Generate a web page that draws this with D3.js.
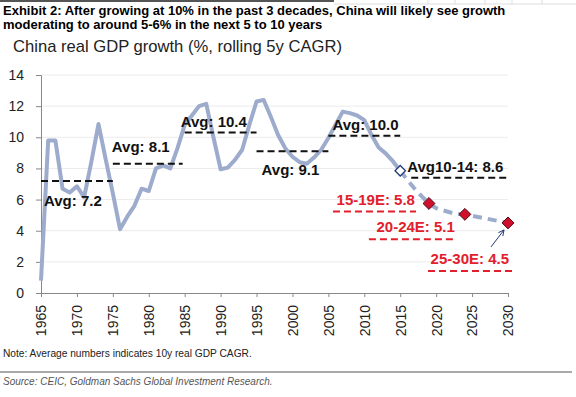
<!DOCTYPE html>
<html>
<head>
<meta charset="utf-8">
<script src="https://cdn.jsdelivr.net/npm/d3@7"></script>
<style>
  body { margin: 0; background: #fff; }
  svg { display: block; font-family: "Liberation Sans", Arial, sans-serif; }
</style>
</head>
<body>
<svg id="chart" width="576" height="397"></svg>
<script>
var yearsActual = [1965, 1966, 1967, 1968, 1969, 1970, 1971, 1972, 1973, 1974,
                   1975, 1976, 1977, 1978, 1979, 1980, 1981, 1982, 1983, 1984,
                   1985, 1986, 1987, 1988, 1989, 1990, 1991, 1992, 1993, 1994,
                   1995, 1996, 1997, 1998, 1999, 2000, 2001, 2002, 2003, 2004,
                   2005, 2006, 2007, 2008, 2009, 2010, 2011, 2012, 2013, 2014, 2015];
var gdpActual = [0.8, 9.8, 9.8, 6.7, 6.45, 6.85, 6.15, 8.4, 10.85, 8.6,
                 6.4, 4.1, 4.9, 5.6, 6.7, 6.55, 8.0, 8.2, 8.0, 9.3,
                 10.8, 11.4, 12.0, 12.15, 10.0, 7.95, 8.05, 8.55, 9.2, 10.8,
                 12.3, 12.4, 11.3, 10.15, 9.3, 8.75, 8.4, 8.3, 8.7, 9.2,
                 9.95, 10.8, 11.65, 11.55, 11.4, 11.1, 10.15, 9.35, 8.95, 8.45, 7.85];

// forecast path (dashed)
var yearsForecast = [2015, 2016, 2017, 2018, 2019, 2020, 2021, 2022, 2023, 2024, 2030];
var gdpForecast = [7.85, 7.25, 6.7, 6.2, 5.75, 5.45, 5.3, 5.17, 5.08, 5.05, 4.5];

// forecast markers
var markerYears = [2019, 2024, 2030];
var markerValues = [5.75, 5.05, 4.5];
var markerLabels = ["15-19E: 5.8", "20-24E: 5.1", "25-30E: 4.5"];

// 10y averages
var avgLabels = ["Avg: 7.2", "Avg: 8.1", "Avg: 10.4", "Avg: 9.1", "Avg: 10.0", "Avg10-14: 8.6"];
var avgFrom = [1965, 1975, 1985, 1995, 2005, 2015];
var avgTo = [1975, 1985, 1995, 2005, 2015, 2030];
var avgLevel = [7.2, 8.3, 10.3, 9.1, 10.1, 7.4];

var xTicks = [1965, 1970, 1975, 1980, 1985, 1990, 1995, 2000, 2005, 2010, 2015, 2020, 2025, 2030];
var yTicks = [0, 2, 4, 6, 8, 10, 12, 14];

var svg = d3.select('#chart');

var x = d3.scaleLinear().domain([1965, 2030]).range([41, 508]);
var y = d3.scaleLinear().domain([0, 14]).range([293, 75]);

var red = '#e2202c', lineColor = '#9dabcd';

// header (top rule + faint table cells on the right)
svg.append('line').attr('x1', 0).attr('x2', 334).attr('y1', 1).attr('y2', 1)
  .attr('stroke', '#555').attr('stroke-width', 2);
svg.append('line').attr('x1', 334).attr('x2', 576).attr('y1', 4).attr('y2', 4)
  .attr('stroke', '#ddd');
[428, 455, 485, 512, 542].forEach(function(cx){
  svg.append('line').attr('x1', cx).attr('x2', cx).attr('y1', 0).attr('y2', 4)
    .attr('stroke', '#ddd');
});
svg.append('text').attr('x', 3).attr('y', 15)
  .attr('font-size', 13).attr('font-weight', 'bold')
  .text('Exhibit 2: After growing at 10% in the past 3 decades, China will likely see growth');
svg.append('text').attr('x', 3).attr('y', 29)
  .attr('font-size', 13).attr('font-weight', 'bold')
  .text('moderating to around 5-6% in the next 5 to 10 years');
svg.append('text').attr('x', 13).attr('y', 52)
  .attr('font-size', 16.6).attr('fill', '#222')
  .text('China real GDP growth (%, rolling 5y CAGR)');

// gridlines
svg.append('g').selectAll('line')
  .data(yTicks.slice(1))
  .enter().append('line')
  .attr('x1', x(1965)).attr('x2', x(2030))
  .attr('y1', function(d){ return y(d); })
  .attr('y2', function(d){ return y(d); })
  .attr('stroke', '#ebebeb');

// axes
var yAxis = svg.append('g')
  .attr('transform', 'translate(' + x(1965) + ',0)')
  .call(d3.axisLeft(y).tickValues(yTicks).tickSize(5).tickPadding(12));
var xAxis = svg.append('g')
  .attr('transform', 'translate(0,' + y(0) + ')')
  .call(d3.axisBottom(x).tickValues(xTicks).tickFormat(d3.format('d')).tickSize(4));

[yAxis, xAxis].forEach(function(a){
  a.select('.domain').attr('stroke', '#888');
  a.selectAll('.tick line').attr('stroke', '#888');
  a.selectAll('text').attr('font-size', 14).attr('fill', '#222')
    .attr('font-family', '"Liberation Sans", Arial, sans-serif');
});
xAxis.selectAll('text')
  .attr('transform', 'rotate(-90)')
  .attr('text-anchor', 'end')
  .attr('x', -12).attr('y', 0).attr('dy', '0.35em');

// series
var line = d3.line()
  .x(function(d){ return x(d[0]); })
  .y(function(d){ return y(d[1]); });

svg.append('path')
  .datum(d3.zip(yearsActual, gdpActual))
  .attr('d', line)
  .attr('fill', 'none').attr('stroke', lineColor)
  .attr('stroke-width', 4).attr('stroke-linejoin', 'round');

svg.append('path')
  .datum(d3.zip(yearsForecast, gdpForecast))
  .attr('d', line)
  .attr('fill', 'none').attr('stroke', lineColor)
  .attr('stroke-width', 4).attr('stroke-dasharray', '9,6');

// average lines + labels
var avgLayout = [
  {dx: 3, dy: 25}, {dx: -1, dy: -12}, {dx: -4, dy: -6},
  {dx: 5, dy: 24}, {dx: 4, dy: -6}, {dx: 7, dy: -6}
];
var avg = svg.append('g');
avgLabels.forEach(function(lab, i){
  var x0 = x(avgFrom[i]) + (i === 5 ? 11 : 0);
  avg.append('line')
    .attr('x1', x0).attr('x2', x(avgTo[i]) - (i === 1 ? 2 : 0))
    .attr('y1', y(avgLevel[i])).attr('y2', y(avgLevel[i]))
    .attr('stroke', '#111').attr('stroke-width', 2).attr('stroke-dasharray', '7,4');
  avg.append('text')
    .attr('x', x(avgFrom[i]) + avgLayout[i].dx)
    .attr('y', y(avgLevel[i]) + avgLayout[i].dy)
    .attr('font-size', 15).attr('font-weight', 'bold').attr('fill', '#111')
    .text(lab);
});

// 2015 open diamond
var diamond = d3.symbol().type(d3.symbolDiamond2).size(70);
svg.append('path')
  .attr('d', diamond)
  .attr('transform', 'translate(' + x(2015) + ',' + y(gdpActual[gdpActual.length - 1]) + ')')
  .attr('fill', '#fff').attr('stroke', '#1f3a7a').attr('stroke-width', 1.3);

// forecast markers and red labels
var redLayout = [
  {tx: -14, ty: 2, ux0: -96, ux1: -13, uy: 8},
  {tx: -10, ty: 18, ux0: -96, ux1: -10, uy: 25},
  {tx: 1, ty: 41, ux0: -80, ux1: 6, uy: 48}
];
var fc = svg.append('g');
markerYears.forEach(function(yr, i){
  var mx = x(yr), my = y(markerValues[i]), L = redLayout[i];
  fc.append('text')
    .attr('x', mx + L.tx).attr('y', my + L.ty)
    .attr('text-anchor', 'end')
    .attr('font-size', 15).attr('font-weight', 'bold').attr('fill', red)
    .text(markerLabels[i]);
  fc.append('line')
    .attr('x1', mx + L.ux0).attr('x2', mx + L.ux1)
    .attr('y1', my + L.uy).attr('y2', my + L.uy)
    .attr('stroke', red).attr('stroke-width', 2).attr('stroke-dasharray', '7,4');
});
fc.selectAll('path.mk')
  .data(d3.zip(markerYears, markerValues))
  .enter().append('path')
  .attr('class', 'mk')
  .attr('d', d3.symbol().type(d3.symbolDiamond2).size(90))
  .attr('transform', function(d){ return 'translate(' + x(d[0]) + ',' + y(d[1]) + ')'; })
  .attr('fill', '#d0102a').attr('stroke', '#4a0a18').attr('stroke-width', 1);

// arrow to the 2030 point
svg.append('defs').append('marker')
  .attr('id', 'arr').attr('viewBox', '0 0 10 10').attr('refX', 9).attr('refY', 5)
  .attr('markerWidth', 7).attr('markerHeight', 7).attr('orient', 'auto')
  .append('path').attr('d', 'M1,1 L9,5 L1,9').attr('fill', 'none')
  .attr('stroke', '#1f3a7a').attr('stroke-width', 1.3);
var ax = x(2030), ay = y(markerValues[2]);
svg.append('line')
  .attr('x1', ax - 17).attr('y1', ay + 24)
  .attr('x2', ax - 4).attr('y2', ay + 7)
  .attr('stroke', '#1f3a7a').attr('stroke-width', 1)
  .attr('marker-end', 'url(#arr)');

// footer
svg.append('text').attr('x', 3).attr('y', 357)
  .attr('font-size', 10.2).attr('fill', '#222')
  .text('Note: Average numbers indicates 10y real GDP CAGR.');
svg.append('line').attr('x1', 0).attr('x2', 572).attr('y1', 372).attr('y2', 372)
  .attr('stroke', '#555').attr('stroke-width', 1.2);
svg.append('text').attr('x', 3).attr('y', 385)
  .attr('font-size', 10).attr('font-style', 'italic').attr('fill', '#555')
  .text('Source: CEIC, Goldman Sachs Global Investment Research.');
</script>
</body>
</html>
